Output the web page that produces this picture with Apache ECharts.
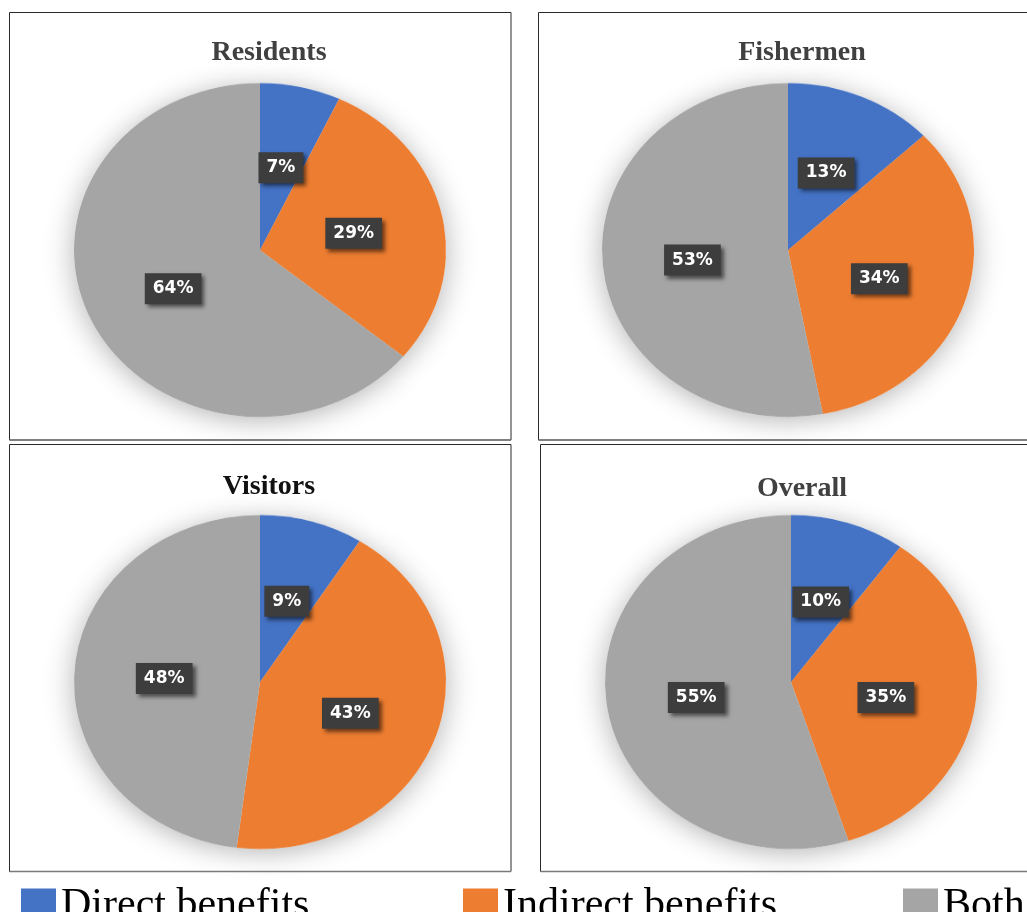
<!DOCTYPE html>
<html>
<head>
<meta charset="utf-8">
<script src="https://cdn.jsdelivr.net/npm/echarts@6/dist/echarts.min.js"></script>
<style>
html,body{margin:0;padding:0;background:#fff;overflow:hidden;width:1027px;height:912px;}
#pies{position:absolute;left:0;top:0;width:1027px;height:1016px;transform:scaleY(0.898);transform-origin:0 0;}
#main{position:absolute;left:0;top:0;width:1027px;height:912px;}
</style>
</head>
<body>
<div id="pies"></div>
<div id="main"></div>
<script>
// ---- data ----
const categories = ['Direct benefits', 'Indirect benefits', 'Both'];
const groups = ['Residents', 'Fishermen', 'Visitors', 'Overall'];
const residents = [7, 29, 64];
const fishermen = [13, 34, 53];
const visitors = [9, 43, 48];
const overall = [10, 35, 55];
const groupValues = [residents, fishermen, visitors, overall];
const colors = ['#4472C4', '#ED7D31', '#A5A5A5'];

// ---- layout ----
const S = 0.898;            // vertical squash of the pies (ellipses)
const R = 186;
const centers = [[260, 250], [788, 250], [260, 682], [791, 682]];
const titlePos = [[269, 53, '#404040'], [802, 53, '#404040'], [269, 487, '#111111'], [802, 489, '#404040']];

function sliceData(vals, colorFn) {
  return vals.map((v, i) => ({ name: categories[i], value: v, itemStyle: { color: colorFn(i) } }));
}

// ---- pie layer (squashed) ----
const pies = echarts.init(document.getElementById('pies'), null, { renderer: 'canvas' });
const pieSeries = [];
groupValues.forEach((vals, g) => {
  const c = [centers[g][0], centers[g][1] / S];
  pieSeries.push({
    type: 'pie', center: c, radius: R, silent: true, z: 1,
    label: { show: false }, labelLine: { show: false },
    itemStyle: { borderWidth: 0, shadowBlur: 30, shadowColor: 'rgba(0,0,0,0.3)', shadowOffsetY: 4 },
    emphasis: { disabled: true },
    data: sliceData(vals, () => '#ffffff')
  });
  pieSeries.push({
    type: 'pie', center: c, radius: R, silent: true, z: 2,
    label: { show: false }, labelLine: { show: false },
    itemStyle: { borderWidth: 0 },
    emphasis: { disabled: true },
    data: sliceData(vals, i => colors[i])
  });
});
pies.setOption({ animation: false, series: pieSeries });

// ---- overlay: boxes, titles, labels, legend ----
const main = echarts.init(document.getElementById('main'), null, { renderer: 'canvas' });
const boxes = [[9.5, 12.5, 501.5, 427.5], [538.5, 12.5, 520, 427.5], [9.5, 444.5, 501.5, 427], [540.5, 444.5, 520, 427]];
const graphics = [];
boxes.forEach((b) => {
  graphics.push({ type: 'rect', silent: true, shape: { x: b[0], y: b[1], width: b[2], height: b[3] },
    style: { fill: null, stroke: '#2a2a2a', lineWidth: 1 } });
  graphics.push({ type: 'line', silent: true, shape: { x1: b[0], y1: b[1] + b[3], x2: b[0] + b[2], y2: b[1] + b[3] },
    style: { stroke: '#7a7a7a', lineWidth: 1.6 } });
});
groups.forEach((name, g) => {
  graphics.push({ type: 'text', silent: true, x: titlePos[g][0], y: titlePos[g][1],
    style: { text: name, fill: titlePos[g][2], font: 'bold 28px "Liberation Serif", "Times New Roman", serif',
      align: 'center', verticalAlign: 'middle' } });
});

const labelSeries = groupValues.map((vals, g) => ({
  type: 'pie', center: centers[g], radius: R, silent: true, avoidLabelOverlap: false,
  itemStyle: { borderWidth: 0 },
  emphasis: { disabled: true },
  label: {
    show: true, position: 'inside', formatter: '{c}%',
    color: '#ffffff', fontFamily: 'DejaVu Sans', fontWeight: 'bold', fontSize: 17, lineHeight: 18,
    backgroundColor: '#3d3d3d', padding: [7, 8, 6, 8],
    shadowColor: 'rgba(0,0,0,0.55)', shadowBlur: 4, shadowOffsetX: 3, shadowOffsetY: 3
  },
  labelLine: { show: false },
  labelLayout: function (p) {
    const cy = centers[g][1];
    const my = p.labelRect.y + p.labelRect.height / 2;
    return { dy: (my - cy) * (S - 1) + 2 };
  },
  data: sliceData(vals, () => 'rgba(0,0,0,0)')
}));

const legendLefts = [21, 463, 903];
const legends = categories.map((name, i) => ({
  left: legendLefts[i], top: 885, padding: 0, selectedMode: false,
  icon: 'rect', itemWidth: 35, itemHeight: 35,
  textStyle: { fontFamily: 'Liberation Serif', fontSize: 42, color: '#000' },
  data: [{ name: name, itemStyle: { color: colors[i] } }]
}));

main.setOption({
  animation: false,
  legend: legends,
  graphic: graphics,
  series: labelSeries
});
</script>
</body>
</html>
